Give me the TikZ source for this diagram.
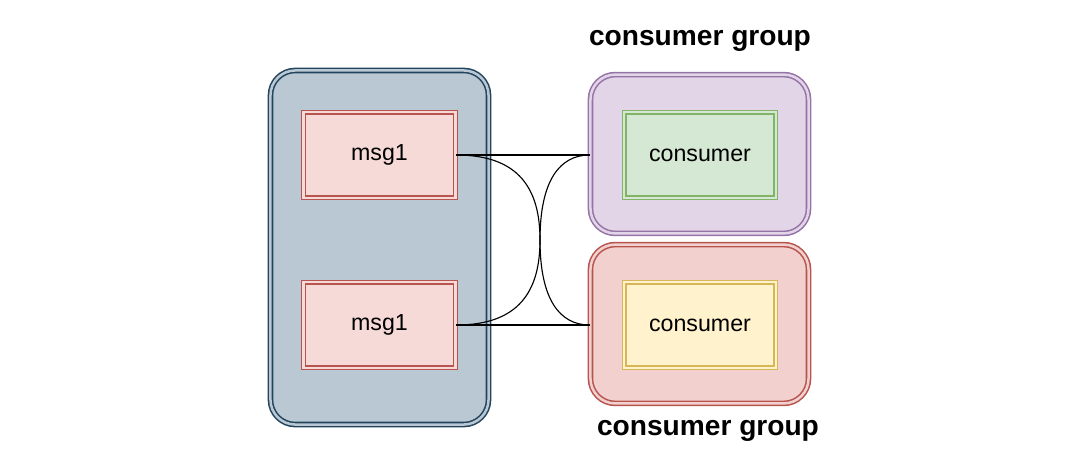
\documentclass[tikz,border=0pt]{standalone}
\usepackage{fontspec}
\setmainfont{Liberation Sans}
\usetikzlibrary{positioning}
\definecolor{topicfill}{HTML}{BAC8D3}
\definecolor{topicline}{HTML}{23445D}
\definecolor{msgfill}{HTML}{F5DAD7}
\definecolor{redline}{HTML}{B85450}
\definecolor{purplefill}{HTML}{E1D5E7}
\definecolor{purpleline}{HTML}{9673A6}
\definecolor{redfill}{HTML}{F2D0CE}
\definecolor{greenfill}{HTML}{D5E8D4}
\definecolor{greenline}{HTML}{82B366}
\definecolor{yellowfill}{HTML}{FFF2CC}
\definecolor{yellowline}{HTML}{D6B656}
\begin{document}
\begin{tikzpicture}[x=0.025cm,y=-0.025cm,
topicnode/.style={rectangle, rounded corners=0.62cm, draw=topicline, fill=topicfill, double=topicfill, double distance=1.8pt, line width=1.1pt, minimum width=5.45cm, minimum height=8.85cm},
groupnode/.style={rectangle, rounded corners=0.62cm, draw=#1line, fill=#1fill, double=#1fill, double distance=1.8pt, line width=1.1pt, minimum width=5.45cm, minimum height=3.97cm},
msgnode/.style={rectangle, draw=redline, fill=msgfill, double=msgfill, double distance=1.5pt, line width=1pt, minimum width=3.8cm, minimum height=2.13cm, font=\fontsize{16.5}{19}\selectfont},
consumernode/.style={rectangle, draw=#1line, fill=#1fill, double=#1fill, double distance=1.5pt, line width=1pt, minimum width=3.78cm, minimum height=2.13cm, font=\fontsize{16.5}{19}\selectfont},
grouplabel/.style={font=\fontsize{20}{24}\selectfont\bfseries},
]
\useasboundingbox (0,0) rectangle (1080,475);
%Nodes
\node[topicnode]                 (topic)  at (379.5,247.5) {};
\node[msgnode]                   (msga)   at (379.5,155)   {msg1};
\node[msgnode]                   (msgb)   at (379.5,325)   {msg1};
\node[groupnode=purple]          (groupa) at (699.5,154)   {};
\node[groupnode=red]             (groupb) at (699.5,324)   {};
\node[consumernode=green]        (consa)  at (700,155)     {consumer};
\node[consumernode=yellow]       (consb)  at (700,325)     {consumer};
\node[grouplabel]                (labela) at (700,41)      {consumer group};
\node[grouplabel]                (labelb) at (708,431)     {consumer group};
\coordinate                      (cross)  at (540,240);

%Lines
\draw[thick] (msga.east) -- (msga.east -| groupa.west);
\draw[thick] (msgb.east) -- (msgb.east -| groupb.west);
\draw[thick] (msga.east) .. controls (520,155) and (540,190) .. (cross)
                         .. controls (540,300) and (560,325) .. (msgb.east -| groupb.west);
\draw[thick] (msgb.east) .. controls (520,325) and (540,290) .. (cross)
                         .. controls (540,180) and (560,155) .. (msga.east -| groupa.west);
\end{tikzpicture}
\end{document}
